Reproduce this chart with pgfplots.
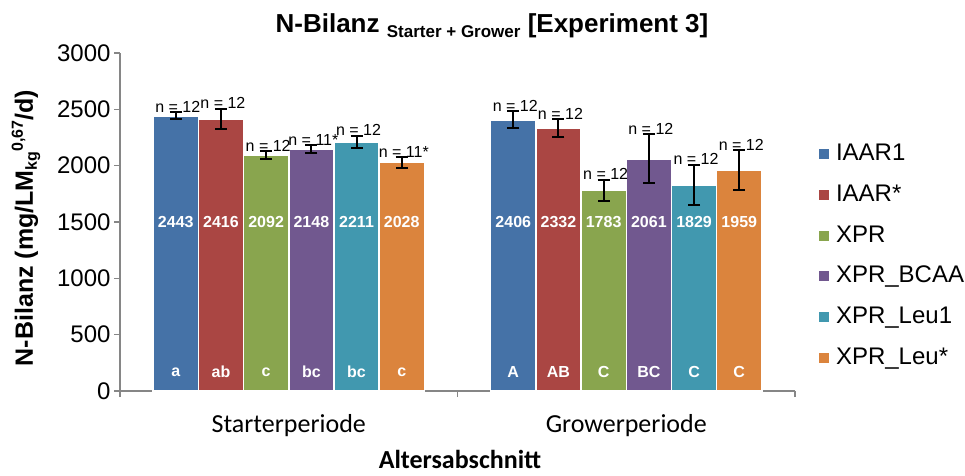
\documentclass[border=0pt]{standalone}
\usepackage{fontspec}
\setmainfont{Liberation Sans}
\newfontfamily\calibri{Carlito}
\usepackage{pgfplots}
\pgfplotsset{compat=1.18}
\definecolor{cIAAR}{RGB}{69,114,167}
\definecolor{cIAARs}{RGB}{170,70,67}
\definecolor{cXPR}{RGB}{137,165,78}
\definecolor{cBCAA}{RGB}{113,88,143}
\definecolor{cLeuA}{RGB}{65,152,175}
\definecolor{cLeuS}{RGB}{219,132,61}
\definecolor{axisgray}{RGB}{134,134,134}
\newcommand\fs[1]{\fontsize{#1}{#1}\selectfont}

\pgfplotsset{
  nbar/.style={fill=#1, draw=white, line width=1.5pt},
}

\begin{document}
\begin{tikzpicture}
\useasboundingbox (-120pt,-84pt) rectangle (845pt,391pt);
\begin{axis}[
  at={(0pt,0pt)}, anchor=south west,
  scale only axis, width=675pt, height=338pt,
  xmin=-0.5, xmax=1.5, ymin=0, ymax=3000,
  ybar=0pt, bar width=0.1339,
  clip=false,
  axis x line*=bottom, axis y line*=left,
  axis line style={draw=axisgray, line width=1.2pt},
  tick style={draw=axisgray, line width=1.2pt},
  tick align=outside, major tick length=6pt,
  xtick={-0.5,0.5,1.5}, xticklabels={},
  extra x ticks={0,1},
  extra x tick labels={Starterperiode,Growerperiode},
  extra x tick style={major tick length=0pt,
    xticklabel style={font=\calibri\fs{26}, yshift=-20pt}},
  ytick={0,500,...,3000},
  scaled y ticks=false,
  yticklabel style={font=\fs{24}, /pgf/number format/1000 sep={}},
  /pgf/number format/assume math mode=true,
  error bars/y dir=both, error bars/y explicit,
  error bars/error bar style={draw=black, line width=2pt},
  error bars/error mark options={draw=black, rotate=90, mark size=6pt, line width=2pt},
  legend style={draw=none, fill=none, inner sep=0pt, outer sep=0pt,
    at={(1.0356,0.3994)}, anchor=west,
    font=\fs{24}, row sep=17.8pt, column sep=7pt,
    nodes={inner sep=0pt, text height=18pt, text depth=5pt}},
  legend cell align=left,
  legend image code/.code={\fill[#1, draw=none] (0pt,-5pt) rectangle (10pt,5pt);},
]
\addplot[nbar=cIAAR]  coordinates {(0,2443) +- (0,30) (1,2406) +- (0,75)};
\addplot[nbar=cIAARs] coordinates {(0,2416) +- (0,90) (1,2332) +- (0,80)};
\addplot[nbar=cXPR]   coordinates {(0,2092) +- (0,35) (1,1783) +- (0,93)};
\addplot[nbar=cBCAA]  coordinates {(0,2148) +- (0,35) (1,2061) +- (0,216)};
\addplot[nbar=cLeuA]  coordinates {(0,2211) +- (0,55) (1,1829) +- (0,181)};
\addplot[nbar=cLeuS]  coordinates {(0,2028) +- (0,45) (1,1959) +- (0,176)};
\legend{IAAR1, IAAR*, XPR, XPR\_BCAA, XPR\_Leu1, XPR\_Leu*}

% n labels
\begin{scope}[every node/.style={font=\fs{16}, anchor=base, inner sep=0pt, xshift=2pt}]
\node at (axis cs:-0.3348,2473) {n = 12};
\node at (axis cs:-0.2009,2506) {n = 12};
\node at (axis cs:-0.0670,2127) {n = 12};
\node at (axis cs:0.0670,2183) {n = 11*};
\node at (axis cs:0.2009,2266) {n = 12};
\node at (axis cs:0.3348,2073) {n = 11*};
\node at (axis cs:0.6652,2481) {n = 12};
\node at (axis cs:0.7991,2412) {n = 12};
\node at (axis cs:0.9330,1876) {n = 12};
\node at (axis cs:1.0670,2277) {n = 12};
\node at (axis cs:1.2009,2010) {n = 12};
\node at (axis cs:1.3348,2135) {n = 12};
\end{scope}
% values and letters
\begin{scope}[every node/.style={font=\bfseries\fs{16}, text=white, inner sep=0pt}]
\node at (axis cs:-0.3348,1500) {2443};
\node at (axis cs:-0.2009,1500) {2416};
\node at (axis cs:-0.0670,1500) {2092};
\node at (axis cs:0.0670,1500) {2148};
\node at (axis cs:0.2009,1500) {2211};
\node at (axis cs:0.3348,1500) {2028};
\node at (axis cs:0.6652,1500) {2406};
\node at (axis cs:0.7991,1500) {2332};
\node at (axis cs:0.9330,1500) {1783};
\node at (axis cs:1.0670,1500) {2061};
\node at (axis cs:1.2009,1500) {1829};
\node at (axis cs:1.3348,1500) {1959};
\node at (axis cs:-0.3348,170) {a};
\node at (axis cs:-0.2009,170) {ab};
\node at (axis cs:-0.0670,170) {c};
\node at (axis cs:0.0670,170) {bc};
\node at (axis cs:0.2009,170) {bc};
\node at (axis cs:0.3348,170) {c};
\node at (axis cs:0.6652,170) {A};
\node at (axis cs:0.7991,170) {AB};
\node at (axis cs:0.9330,170) {C};
\node at (axis cs:1.0670,170) {BC};
\node at (axis cs:1.2009,170) {C};
\node at (axis cs:1.3348,170) {C};
\end{scope}
\end{axis}
% title
\node[anchor=base, inner sep=0pt, font=\bfseries\fs{26}] at (372pt,359pt)
  {N-Bilanz \raisebox{-5pt}{\fs{17}Starter + Grower} [Experiment 3]};
% y label
\node[anchor=base, rotate=90, inner sep=0pt, font=\bfseries\fs{25}] at (-87pt,163pt)
  {N-Bilanz (mg/LM\raisebox{-4pt}{\fs{16}kg}\raisebox{10pt}{\fs{16}0,67}/d)};
% x label
\node[anchor=base, inner sep=0pt, font=\calibri\bfseries\fs{26}] at (340pt,-77pt)
  {Altersabschnitt};
\end{tikzpicture}
\end{document}
